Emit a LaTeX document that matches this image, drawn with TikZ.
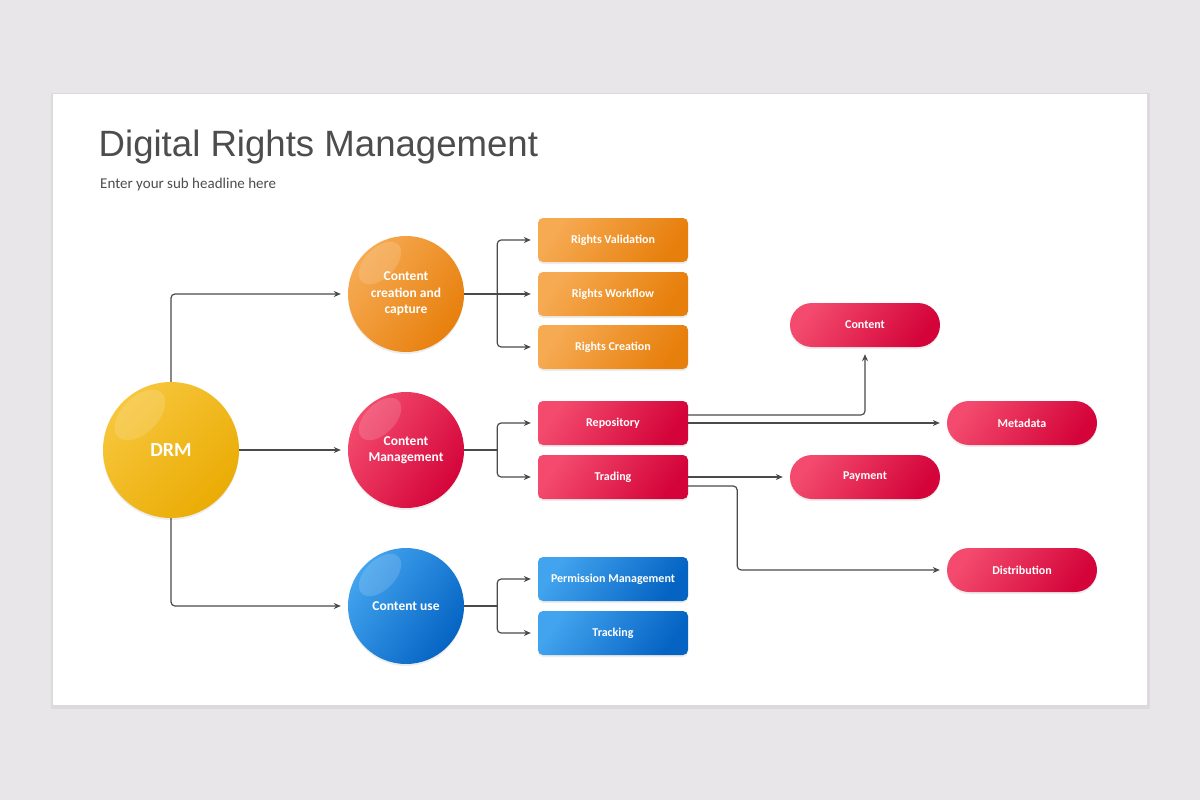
\documentclass[tikz,border=0pt]{standalone}
\usepackage{fontspec}
\setmainfont{Carlito}
\newfontfamily\titlefont{Liberation Sans}
\usetikzlibrary{arrows.meta,shapes.geometric,shadows}

\definecolor{bgGray}{HTML}{E8E6E8}
\definecolor{lineGray}{HTML}{4A4A4A}
\definecolor{txtGray}{HTML}{4D4D4D}
\definecolor{yelA}{HTML}{F7C63C}
\definecolor{yelB}{HTML}{EAAC04}
\definecolor{orA}{HTML}{F6AA52}
\definecolor{orB}{HTML}{E77F0C}
\definecolor{redA}{HTML}{F34A6D}
\definecolor{redB}{HTML}{D4043A}
\definecolor{bluA}{HTML}{42A3EE}
\definecolor{bluB}{HTML}{0563C3}

\begin{document}
\begin{tikzpicture}[x=1pt,y=-1pt,
    every node/.style={text=white,font=\bfseries},
    soft/.style={drop shadow={shadow xshift=0pt,shadow yshift=-2pt,opacity=0.07,fill=black}},
    ball/.style={circle,inner sep=0pt,minimum size=116pt,align=center,soft,
      font=\bfseries\fontsize{13.5}{16.5}\selectfont},
    gloss/.style={ellipse,fill=white,fill opacity=0.15,inner sep=0pt,
      minimum width=52pt,minimum height=30pt,rotate=45},
    box/.style={rectangle,rounded corners=5pt,minimum width=150pt,minimum height=44pt,
      inner sep=0pt,soft,font=\bfseries\fontsize{12}{14}\selectfont},
    pill/.style={box,rounded corners=22pt},
    yelshade/.style={top color=yelA,bottom color=yelB,shading angle=45},
    orshade/.style={top color=orA,bottom color=orB,shading angle=55},
    redshade/.style={top color=redA,bottom color=redB,shading angle=55},
    blushade/.style={top color=bluA,bottom color=bluB,shading angle=55},
    link/.style={draw=lineGray,line width=1.2pt},
    arr/.style={link,-{Stealth[length=7pt,width=6pt]},shorten >=7pt,rounded corners=4pt}
  ]
    \fill[bgGray] (0,0) rectangle (1200,800);
    \useasboundingbox (0,0) rectangle (1200,800);
    \fill[black,opacity=0.05] (51,93) rectangle (1150,709);
    \fill[white] (53,94) rectangle (1147,705);

    \node[anchor=base west,inner sep=0pt,text=txtGray,font=\titlefont\fontsize{36.6}{40}\selectfont]
      (ttl) at (98.5,156) {Digital Rights Management};
    \node[anchor=base west,inner sep=0pt,text=txtGray,font=\fontsize{15}{18}\selectfont]
      (sub) at (100,188) {Enter your sub headline here};

    % circles
    \node[ball,yelshade,minimum size=136pt,font=\bfseries\fontsize{20}{24}\selectfont] (drm) at (171,450) {DRM};
    \node[ball,orshade] (cc) at (406,294) {Content\\creation and\\capture};
    \node[ball,redshade] (cm) at (406,450) {Content\\Management};
    \node[ball,blushade] (cu) at (406,606) {Content use};
    \node[gloss,minimum width=62pt,minimum height=36pt] at ([xshift=-31pt,yshift=35pt]drm.center) {};
    \foreach \b in {cc,cm,cu}
      \node[gloss] at ([xshift=-26pt,yshift=31pt]\b.center) {};

    % boxes
    \node[box,orshade] (rv) at (613,240) {Rights Validation};
    \node[box,orshade] (rw) at (613,294) {Rights Workflow};
    \node[box,orshade] (rcr) at (613,347) {Rights Creation};
    \node[box,redshade] (rep) at (613,423) {Repository};
    \node[box,redshade] (trd) at (613,477) {Trading};
    \node[box,blushade] (perm) at (613,579) {Permission Management};
    \node[box,blushade] (trk) at (613,633) {Tracking};

    \node[pill,redshade] (cont) at (865,325) {Content};
    \node[pill,redshade] (meta) at (1022,423) {Metadata};
    \node[pill,redshade] (pay) at (865,477) {Payment};
    \node[pill,redshade] (dist) at (1022,570) {Distribution};

    % connectors
    \draw[arr] (drm.north) |- (cc.west);
    \draw[arr] (drm.east) -- (cm.west);
    \draw[arr] (drm.south) |- (cu.west);
    \draw[link] (cc.east) -- ++(33,0) coordinate (j);
    \draw[arr] (j) -- (rw.west);
    \draw[arr] (j) |- (rv.west);
    \draw[arr] (j) |- (rcr.west);
    \foreach \c/\a/\z in {cm/rep/trd,cu/perm/trk} {
      \draw[link] (\c.east) -- ++(33,0) coordinate (j);
      \draw[arr] (j) |- (\a.west);
      \draw[arr] (j) |- (\z.west);
    }
    \draw[arr] ([yshift=8pt]rep.east) -| (cont.south);
    \draw[arr] (rep.east) -- (meta.west);
    \draw[arr] (trd.east) -- (pay.west);
    \draw[arr] ([yshift=-9pt]trd.east) -- ++(49,0) |- (dist.west);
  \end{tikzpicture}
\end{document}
